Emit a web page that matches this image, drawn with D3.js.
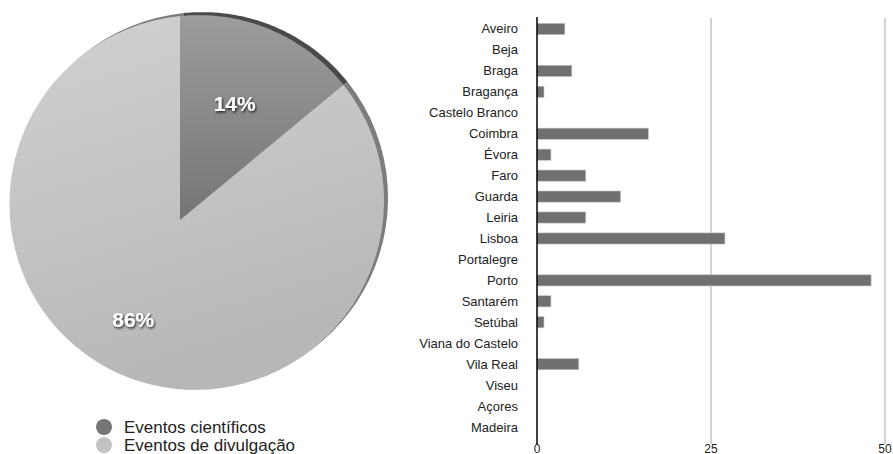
<!DOCTYPE html>
<html>
<head>
<meta charset="utf-8">
<script src="https://cdn.jsdelivr.net/npm/d3@7"></script>
<style>
  body { margin: 0; background: #fff; }
  svg { display: block; font-family: "Liberation Sans", Arial, sans-serif; }
</style>
</head>
<body>
<script>
// pie data
var pieLabels = ["Eventos científicos", "Eventos de divulgação"];
var pieValues = [14, 86];

// bar data
var districts = ["Aveiro", "Beja", "Braga", "Bragança", "Castelo Branco", "Coimbra", "Évora", "Faro",
  "Guarda", "Leiria", "Lisboa", "Portalegre", "Porto", "Santarém", "Setúbal", "Viana do Castelo",
  "Vila Real", "Viseu", "Açores", "Madeira"];
var counts = [4, 0, 5, 1, 0, 16, 2, 7, 12, 7, 27, 0, 48, 2, 1, 0, 6, 0, 0, 0];
var xTicks = [0, 25, 50];

var svg = d3.select("body").append("svg")
    .attr("width", 893)
    .attr("height", 454);

var defs = svg.append("defs");

var g1 = defs.append("linearGradient").attr("id", "gDark")
    .attr("x1", 0).attr("y1", 0).attr("x2", 0).attr("y2", 1);
g1.append("stop").attr("offset", "0%").attr("stop-color", "#9c9c9c");
g1.append("stop").attr("offset", "100%").attr("stop-color", "#747675");

var g2 = defs.append("linearGradient").attr("id", "gLight")
    .attr("x1", 0).attr("y1", 0).attr("x2", 0.3).attr("y2", 1);
g2.append("stop").attr("offset", "0%").attr("stop-color", "#d1d2d0");
g2.append("stop").attr("offset", "100%").attr("stop-color", "#b7b7b7");

var shadow = defs.append("filter").attr("id", "txtShadow")
    .attr("x", "-20%").attr("y", "-30%").attr("width", "140%").attr("height", "160%");
shadow.append("feDropShadow")
    .attr("dx", 1).attr("dy", 1.5).attr("stdDeviation", 1.2)
    .attr("flood-color", "#000").attr("flood-opacity", 0.8);

// ---- pie (slightly tilted disc) ----
var cx = 180, cy = 220, R = 185;
var ka = -0.089 / R, kb = 0.093 / R;

function project(t, r) {
  var x = r * Math.sin(t), y = -r * Math.cos(t);
  var w = 1 + ka * x + kb * y;
  return [cx + x / w, cy + y / w];
}

function slicePath(d) {
  var pts = [[cx, cy]];
  var n = 80;
  for (var i = 0; i <= n; i++) {
    var t = d.startAngle + (d.endAngle - d.startAngle) * i / n;
    pts.push(project(t, R));
  }
  return d3.line()(pts) + "Z";
}

var pie = d3.pie().sort(null);
var arcs = pie(pieValues);
var fills = ["url(#gDark)", "url(#gLight)"];
var rimColors = ["#4b494a", "#7b7d7c"];

// rim behind the disc
svg.append("g").attr("transform", "translate(4,-3)")
  .selectAll("path")
  .data(arcs)
  .enter()
  .append("path")
  .attr("d", slicePath)
  .attr("fill", function(d, i) { return rimColors[i]; });

svg.append("g")
  .selectAll("path")
  .data(arcs)
  .enter()
  .append("path")
  .attr("d", slicePath)
  .attr("fill", function(d, i) { return fills[i]; });

svg.append("g")
  .selectAll("text")
  .data(arcs)
  .enter()
  .append("text")
  .attr("x", function(d) { return project((d.startAngle + d.endAngle) / 2, R * 0.64)[0]; })
  .attr("y", function(d) { return project((d.startAngle + d.endAngle) / 2, R * 0.64)[1]; })
  .attr("text-anchor", "middle")
  .attr("dominant-baseline", "central")
  .attr("font-size", "21px")
  .attr("font-weight", "bold")
  .attr("fill", "#fff")
  .attr("filter", "url(#txtShadow)")
  .text(function(d) { return d3.format(".0%")(d.value / d3.sum(pieValues)); });

// legend
var legendColors = ["#737574", "#c3c3c3"];
var legend = svg.append("g")
  .selectAll("g")
  .data(pieLabels)
  .enter()
  .append("g")
  .attr("transform", function(d, i) { return "translate(104," + (427 + i * 18) + ")"; });
legend.append("circle")
  .attr("r", 8)
  .attr("fill", function(d, i) { return legendColors[i]; });
legend.append("text")
  .attr("x", 20)
  .attr("y", 6)
  .attr("font-size", "17px")
  .attr("fill", "#222")
  .text(function(d) { return d; });

// ---- bar chart ----
var x = d3.scaleLinear().domain([0, 50]).range([537, 885]);
var y = d3.scaleBand().domain(districts).range([18.5, 437.5])
  .paddingInner(0.47).paddingOuter(0.235);

svg.append("g")
  .selectAll("line")
  .data(xTicks.slice(1))
  .enter()
  .append("line")
  .attr("x1", function(d) { return x(d); })
  .attr("x2", function(d) { return x(d); })
  .attr("y1", 18)
  .attr("y2", 444)
  .attr("stroke", "#c4c4c4")
  .attr("stroke-width", 1.5);

svg.append("g")
  .selectAll("rect")
  .data(counts)
  .enter()
  .append("rect")
  .attr("x", x(0))
  .attr("y", function(d, i) { return y(districts[i]); })
  .attr("width", function(d) { return x(d) - x(0); })
  .attr("height", y.bandwidth())
  .attr("fill", "#707070")
  .attr("stroke", "#bdbdbd")
  .attr("stroke-width", function(d) { return d > 0 ? 0.6 : 0; });

svg.append("g")
  .selectAll("text")
  .data(districts)
  .enter()
  .append("text")
  .attr("x", 518)
  .attr("y", function(d) { return y(d) + y.bandwidth() / 2; })
  .attr("dominant-baseline", "central")
  .attr("text-anchor", "end")
  .attr("font-size", "13px")
  .attr("fill", "#222")
  .text(function(d) { return d; });

svg.append("line")
  .attr("x1", x(0)).attr("x2", x(0))
  .attr("y1", 17).attr("y2", 444)
  .attr("stroke", "#000")
  .attr("stroke-width", 1.5);

svg.append("g")
  .selectAll("text")
  .data(xTicks)
  .enter()
  .append("text")
  .attr("x", function(d) { return x(d); })
  .attr("y", 453)
  .attr("text-anchor", "middle")
  .attr("font-size", "12px")
  .attr("fill", "#222")
  .text(function(d) { return d; });
</script>
</body>
</html>
